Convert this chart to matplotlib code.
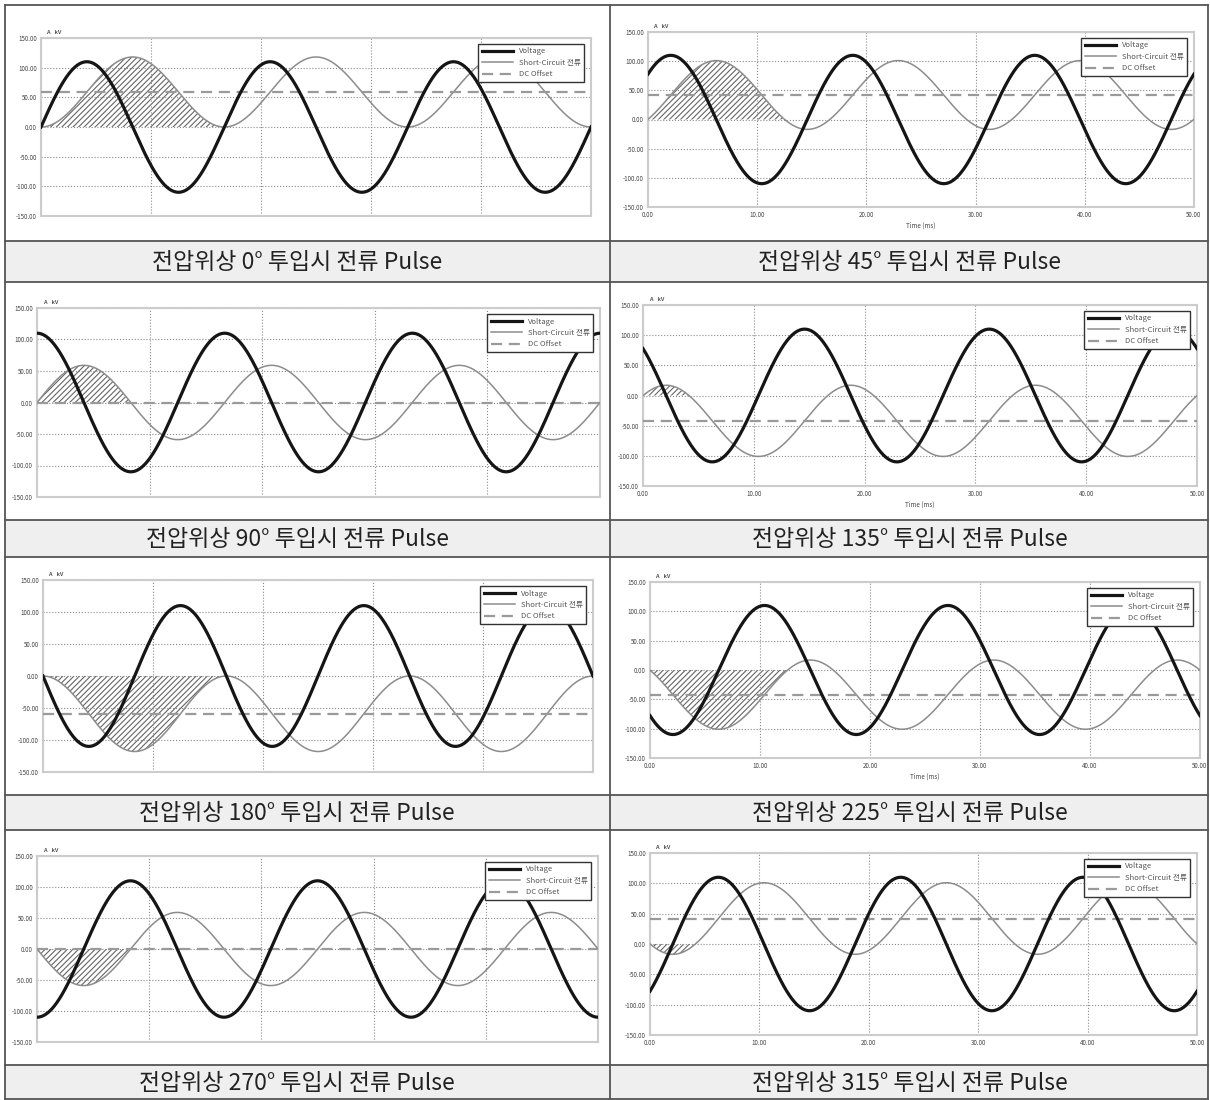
import numpy as np
import matplotlib.pyplot as plt
from matplotlib.patches import Rectangle

plt.rcParams['font.family'] = ['Noto Sans CJK KR', 'DejaVu Sans']
plt.rcParams['hatch.linewidth'] = 0.8

# values
phases = [0, 45, 90, 135, 180, 225, 270, 315]          # switching angle, deg
dc_offset = [59, 42, 0, -42, -59, -42, 0, 42]           # dashed line level
pulse_end = [16.7, 12.5, 8.3, 4.2, 16.7, 12.5, 8.3, 4.2]  # end of hatched lobe, ms
v_peak = 110       # voltage amplitude
i_peak = 59        # AC part of short-circuit current
freq = 60          # Hz
t_end = 50         # ms
captions = ['전압위상 %d° 투입시 전류 Pulse' % p for p in phases]
y_ticks = [-150, -100, -50, 0, 50, 100, 150]
x_ticks = [0, 10, 20, 30, 40, 50]

W, H = 1210, 1100
fig = plt.figure(figsize=(W / 100, H / 100), dpi=100)

# table background, pixel coords
bg = fig.add_axes([0, 0, 1, 1], zorder=0)
bg.set_xlim(0, W)
bg.set_ylim(H, 0)
bg.axis('off')
bands = [(241, 282), (520, 557), (795, 830), (1065, 1099)]
for top, bot in bands:
    bg.add_patch(Rectangle((5, top), 1203, bot - top, facecolor='#efefef', edgecolor='none'))
for y in [5, 241, 282, 520, 557, 795, 830, 1065, 1099]:
    bg.plot([5, 1208], [y, y], color='#555555', lw=1.3)
for x in [5, 610, 1208]:
    bg.plot([x, x], [5, 1099], color='#555555', lw=1.3)
for k, (top, bot) in enumerate(bands):
    for j, cx in enumerate([297, 910]):
        bg.text(cx, (top + bot) / 2 + 1, captions[2 * k + j], ha='center', va='center',
                fontsize=16.5, fontweight='light', color='#222222')

# axes boxes in pixels: left, top, right, bottom
boxes = [
    (41, 38, 591, 216),
    (648, 32, 1194, 207),
    (37, 308, 600, 497),
    (643, 305, 1197, 486),
    (43, 580, 593, 772),
    (650, 582, 1200, 758),
    (37, 856, 598, 1042),
    (650, 853, 1197, 1035),
]

t = np.linspace(0, t_end, 1500)
w = 2 * np.pi * freq / 1000.0

for n, ph in enumerate(phases):
    l, tp, r, b = boxes[n]
    ax = fig.add_axes([l / W, 1 - b / H, (r - l) / W, (b - tp) / H], zorder=2)
    th = np.radians(ph)
    volt = v_peak * np.sin(w * t + th)
    cur = dc_offset[n] - i_peak * np.cos(w * t + th)

    m = t <= pulse_end[n]
    ax.fill_between(t[m], cur[m], 0, facecolor='none', edgecolor='#666666', hatch='//////', linewidth=0)
    ax.plot(t, cur, color='#8c8c8c', lw=1.1, label='Short-Circuit 전류', zorder=3)
    ax.axhline(dc_offset[n], color='#9a9a9a', lw=1.6, ls=(0, (5, 3)), label='DC Offset', zorder=3)
    ax.plot(t, volt, color='#151515', lw=2.3, label='Voltage', zorder=4)

    ax.set_xlim(0, t_end)
    ax.set_ylim(-150, 150)
    ax.set_yticks(y_ticks)
    ax.set_yticklabels(['%.2f' % v for v in y_ticks])
    ax.set_xticks(x_ticks)
    if n % 2 == 1:
        ax.set_xticklabels(['%.2f' % v for v in x_ticks])
        if n < 7:
            ax.set_xlabel('Time (ms)', fontsize=4.5, color='#444444', labelpad=2)
    else:
        ax.set_xticklabels([])
    ax.tick_params(length=0, labelsize=4.5, labelcolor='#444444', pad=3)
    ax.grid(True, ls=':', color='#8a8a8a', lw=0.8)
    for s in ax.spines.values():
        s.set_color('#cccccc')
        s.set_linewidth(1.5)
    ax.text(0.01, 1.02, 'A    kV', transform=ax.transAxes, fontsize=4, color='#555555',
            fontweight='bold')

    h, lab = ax.get_legend_handles_labels()
    order = [2, 0, 1]
    leg = ax.legend([h[i] for i in order], [lab[i] for i in order], loc='upper right',
                    fontsize=5.5, handlelength=4, fancybox=False, framealpha=1,
                    edgecolor='#333333', borderpad=0.5, labelspacing=0.45,
                    bbox_to_anchor=(0.995, 0.99))
    leg.get_frame().set_linewidth(1.0)
    for tx in leg.get_texts():
        tx.set_color('#555555')

fig.savefig('out.png', dpi=100)
